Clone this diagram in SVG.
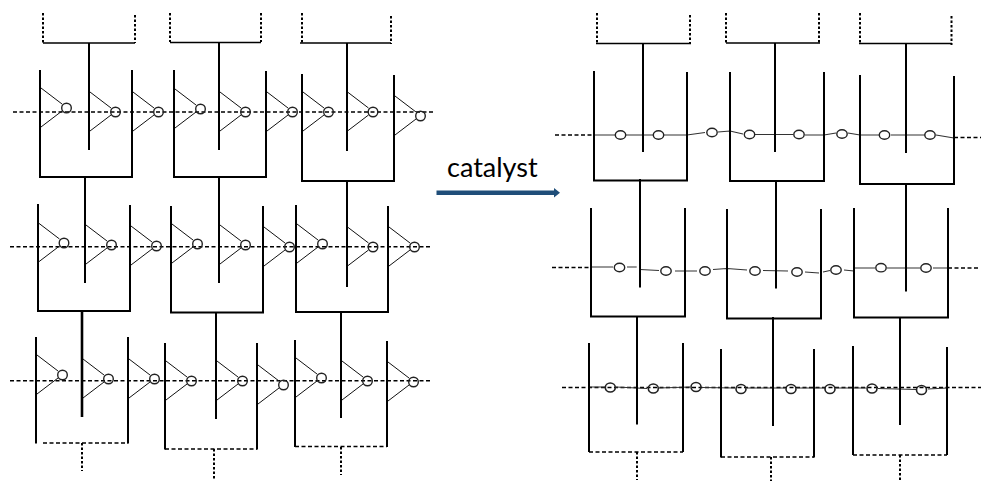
<svg xmlns="http://www.w3.org/2000/svg" xmlns:xlink="http://www.w3.org/1999/xlink" width="981" height="481" viewBox="0 0 981 481">
<style>
.w{fill:none;stroke:#000;stroke-width:2}
.wt{fill:none;stroke:#000;stroke-width:2.6}
.h{fill:none;stroke:#000;stroke-width:1.7}
.dot{fill:none;stroke:#000;stroke-width:2;stroke-dasharray:2.5 2}
.dash{fill:none;stroke:#000;stroke-width:1.6;stroke-dasharray:4 2.5}
.thin{fill:none;stroke:#000;stroke-width:1.3;stroke-dasharray:4 2.5}
.chain{fill:none;stroke:#333;stroke-width:1.2}
.c{fill:none;stroke:#222;stroke-width:1.4}
.c2{fill:none;stroke:#222;stroke-width:1.6}
text{font-family:"Lato","Liberation Sans",sans-serif;font-size:27px;fill:#000}
</style>
<defs>
<g id="flap"><path d="M0,0L21,16M0,39L21,23" fill="none" stroke="#111" stroke-width="1"/><circle cx="25.500" cy="20" r="4.800" fill="none" stroke="#222" stroke-width="1.400"/></g>
</defs>
<rect width="981" height="481" fill="#fff"/>

<g id="connectors">
<path class="dash" d="M13,112H433M10,246.700H430M10,380.700H430"/>
<path class="thin" d="M555,135H593M954,137.500H981M552,267.500H591M948,268H980M562,387.500H981"/>
<path class="chain" d="M593,135H615M626,135H653M664,135H687L705,132.500M718,132L730,131L743,134M755,134.500H793M805,135H824L836,133M848,133L860,135H879M891,135H925M936,135L954,138"/>
<path class="chain" d="M591,267H613M627,267H636.700M640,269.500L659,270.500M675,271L697,271M713,269.500L727,268.500L747,270M763,270.500L788,271M805,272L819,273M823,272L830,270.500M844,270L854,271M855,268H875M887,268H920M933,268H948"/>
<path class="chain" d="M589,387H605M616,387L647,388.500M659,388L690,387M702,387.500L735,388M747,388H785M797,388H825M836,388H866M878,388.500L916,389.500M928,389L947,388"/>
</g>

<g id="feed-left-1"><path class="dot" d="M43,13V43M135,15V43"/><path class="h" d="M43,43H135"/></g>
<g id="feed-left-2"><path class="dot" d="M170,13V42M261,13V42"/><path class="h" d="M170,42.500H261"/></g>
<g id="feed-left-3"><path class="dot" d="M302,13V43M391,16V44"/><path class="h" d="M300,43H391"/></g>

<g id="left-r1c1"><path class="w" d="M40,70V177H132V70M89,43V150"/>
<use xlink:href="#flap" x="41" y="88"/><use xlink:href="#flap" x="90" y="92"/><use xlink:href="#flap" x="133" y="92"/></g>
<g id="left-r1c2"><path class="w" d="M174,70V177H266V71M219,43V150"/>
<use xlink:href="#flap" x="175" y="89"/><use xlink:href="#flap" x="220" y="92"/><use xlink:href="#flap" x="267" y="92"/></g>
<g id="left-r1c3"><path class="w" d="M302,74V181H394V75M347,43V151"/>
<use xlink:href="#flap" x="303" y="92"/><use xlink:href="#flap" x="347.500" y="92"/><use xlink:href="#flap" x="395" y="96"/></g>

<g id="left-r2c1"><path class="w" d="M38,204V311H130V205M85,176V283"/>
<use xlink:href="#flap" x="38.500" y="223"/><use xlink:href="#flap" x="86" y="225"/><use xlink:href="#flap" x="131" y="226"/></g>
<g id="left-r2c2"><path class="w" d="M171,206V312.500H263V206M219,178V283"/>
<use xlink:href="#flap" x="172" y="224"/><use xlink:href="#flap" x="220" y="225"/><use xlink:href="#flap" x="264" y="227"/></g>
<g id="left-r2c3"><path class="w" d="M296,205V312H388V206M347,180V287"/>
<use xlink:href="#flap" x="297" y="224"/><use xlink:href="#flap" x="347.500" y="227"/><use xlink:href="#flap" x="389" y="227"/></g>

<g id="left-r3c1"><path class="w" d="M36,337V443.500M128,337V443.500"/><path class="wt" d="M82,311V417"/><path class="thin" d="M43,443H128"/><path class="dot" d="M82,443V471"/>
<use xlink:href="#flap" x="37" y="355"/><use xlink:href="#flap" x="83" y="359"/><use xlink:href="#flap" x="129" y="359"/></g>
<g id="left-r3c2"><path class="w" d="M165,343V449.500M257,343V449.500M216,313V419"/><path class="thin" d="M165,449H257"/><path class="dot" d="M214,449V479"/>
<use xlink:href="#flap" x="166" y="361"/><use xlink:href="#flap" x="217" y="361"/><use xlink:href="#flap" x="258" y="365"/></g>
<g id="left-r3c3"><path class="w" d="M295,340V447M387,341V447M341,311V418"/><path class="thin" d="M295,446.500H387"/><path class="dot" d="M341,447V475"/>
<use xlink:href="#flap" x="296" y="358"/><use xlink:href="#flap" x="342" y="361"/><use xlink:href="#flap" x="388" y="362"/></g>

<g id="catalyst-arrow">
<text x="447" y="177">catalyst</text>
<path d="M436.500,190.500H554V188L560,192.700L554,197.500V195H436.500Z" fill="#1f4e79"/>
</g>

<g id="feed-right-1"><path class="dot" d="M597,13V43M690,15V44"/><path class="h" d="M596,43.500H691"/></g>
<g id="feed-right-2"><path class="dot" d="M726,13V43M819,13V43"/><path class="h" d="M726,43H820"/></g>
<g id="feed-right-3"><path class="dot" d="M860,13V43M951.500,16V45"/><path class="h" d="M859,43.500H952"/></g>

<g id="right-r1c1"><path class="w" d="M594,71V180.500H687V72M643,43V152"/><ellipse class="c" cx="620.500" cy="135" rx="5.200" ry="4.200"/><ellipse class="c" cx="658.500" cy="135" rx="5.200" ry="4.200"/></g>
<g id="right-link-1a"><ellipse class="c" cx="712" cy="132.500" rx="5.200" ry="4.200"/></g>
<g id="right-r1c2"><path class="w" d="M730,72V181H824V72M775,43V152"/><ellipse class="c" cx="749.500" cy="134.500" rx="5.200" ry="4.200"/><ellipse class="c" cx="799" cy="134.500" rx="5.200" ry="4.200"/></g>
<g id="right-link-1b"><ellipse class="c" cx="842" cy="134" rx="5.200" ry="4.200"/></g>
<g id="right-r1c3"><path class="w" d="M860,75V184H954V76M906,43V153"/><ellipse class="c" cx="884.500" cy="135" rx="5.200" ry="4.200"/><ellipse class="c" cx="930" cy="135" rx="5.200" ry="4.200"/></g>

<g id="right-r2c1"><path class="w" d="M591,208V316.500H685V208M640,179V287.500"/><ellipse class="c" cx="619.500" cy="267.500" rx="5.200" ry="4.200"/><ellipse class="c" cx="666" cy="271" rx="5.200" ry="4.200"/></g>
<g id="right-link-2a"><ellipse class="c" cx="705" cy="271" rx="5.200" ry="4.200"/></g>
<g id="right-r2c2"><path class="w" d="M727,209V318.500H821V209M776,181V288.500"/><ellipse class="c" cx="755" cy="271" rx="5.200" ry="4.200"/><ellipse class="c" cx="797" cy="272" rx="5.200" ry="4.200"/></g>
<g id="right-link-2b"><ellipse class="c" cx="836" cy="270" rx="5.200" ry="4.200"/></g>
<g id="right-r2c3"><path class="w" d="M854,208V317.500H948V208M906,183V291.500"/><ellipse class="c" cx="881" cy="267.700" rx="5.200" ry="4.200"/><ellipse class="c" cx="926" cy="268" rx="5.200" ry="4.200"/></g>

<g id="right-r3c1"><path class="w" d="M589,343V452M683,343V452M637,317V424.500"/><path class="thin" d="M589,452H683"/><path class="dot" d="M637,452V480"/><ellipse class="c2" cx="610.300" cy="387.500" rx="5" ry="4.500"/><ellipse class="c2" cx="653.300" cy="388.500" rx="5" ry="4.500"/></g>
<g id="right-link-3a"><ellipse class="c2" cx="696" cy="387" rx="5" ry="4.500"/></g>
<g id="right-r3c2"><path class="w" d="M721,349V457.500M814,349V457.500M773,317V426"/><path class="thin" d="M721,457H814"/><path class="dot" d="M771,457V481"/><ellipse class="c2" cx="741" cy="389" rx="5" ry="4.500"/><ellipse class="c2" cx="791" cy="389" rx="5" ry="4.500"/></g>
<g id="right-link-3b"><ellipse class="c2" cx="830" cy="389" rx="5" ry="4.500"/></g>
<g id="right-r3c3"><path class="w" d="M853,346V455M947,347V455M900,317V425"/><path class="thin" d="M853,455H947"/><path class="dot" d="M900,455V481"/><ellipse class="c2" cx="872" cy="388.500" rx="5" ry="4.500"/><ellipse class="c2" cx="921.500" cy="390" rx="5" ry="4.500"/></g>
</svg>
